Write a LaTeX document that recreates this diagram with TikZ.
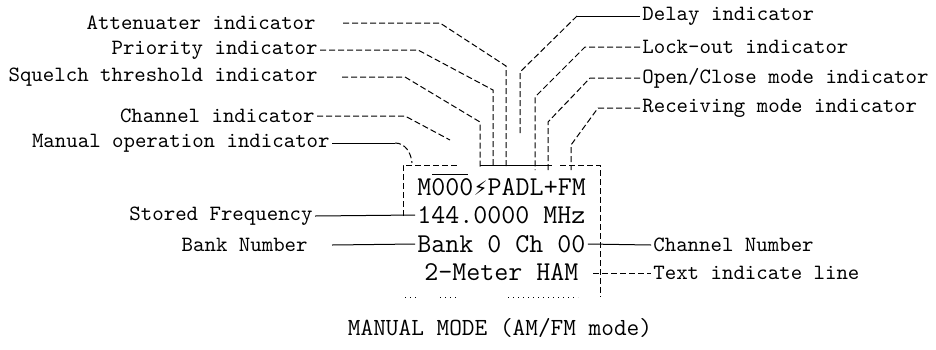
\documentclass[tikz,border=0pt]{standalone}
\usepackage{fontspec}
\newfontfamily\symfont{DejaVu Sans}

\begin{document}
\begin{tikzpicture}[
  x=0.5pt, y=-0.5pt,
  lbl/.style={font=\ttfamily\fontsize{10.9}{13}\selectfont, inner sep=1pt},
  lcd/.style={font=\ttfamily\fontsize{13.6}{16}\selectfont, inner sep=1pt, anchor=west},
  ttl/.style={font=\ttfamily\fontsize{12.3}{15}\selectfont, inner sep=1pt},
  lead/.style={line width=0.5pt, dash pattern=on 3pt off 1.5pt},
  wire/.style={line width=0.5pt},
]
  \useasboundingbox (0,0) rectangle (936,349);

  % labels on the left
  \foreach \name/\x/\y/\txt in {att/318/23/Attenuater indicator, pri/320/50/Priority indicator,
      sql/320/77/Squelch threshold indicator, chi/317/116/Channel indicator,
      man/332/143/Manual operation indicator, stf/315/216/Stored Frequency, bnk/310/245/Bank Number}
    \node[lbl, anchor=east] (\name) at (\x,\y) {\txt};

  % labels on the right
  \foreach \name/\x/\y/\txt in {dly/640/16/Delay indicator, lck/640/47/Lock-out indicator,
      opn/640/78/{Open/Close mode indicator}, rcv/640/108/Receiving mode indicator,
      chn/651/245/Channel Number, txt/651/273/Text indicate line}
    \node[lbl, anchor=west] (\name) at (\x,\y) {\txt};

  % display lines
  \node[lcd] (r1) at (415,187) {M000\makebox[0.525em]{\symfont\fontsize{10}{10}\selectfont ⚡}PADL+FM};
  \node[lcd] (r2) at (415,215) {144.0000 MHz};
  \node[lcd] (r3) at (415,244) {Bank 0 Ch 00};
  \node[lcd] (r4) at (422,272) {2-Meter HAM};
  \node[ttl] (ttl) at (500,328) {MANUAL MODE (AM/FM mode)};

  % left fan into the indicator bar
  \foreach \from/\gap/\ax/\ay/\bx/\by/\ey in {att/25/440/23/506/66/168, pri/0/418/50/493/90/168,
      sql/22/405/77/480/122/168}
    \draw[lead] (\from.east) ++(\gap,0) -- (\ax,\ay) -- (\bx,\by) -- (\bx,\ey);
  \draw[lead] (chi.east) -- (405,116) -- (450,140);
  \draw[wire] (man.east) -- (395,143);
  \draw[lead] (395,143) to[out=0, in=95] (412,163);

  % right fan
  \draw[wire] (dly.west) -- (577,16);
  \draw[lead] (577,16) -- (520,72) -- (520,135);
  \foreach \from/\ax/\ay/\bx/\by/\ey in {lck/585/47/535/97/170,
      opn/590/78/548/122/172, rcv/598/108/571/145/170}
    \draw[lead] (\from.west) -- (\ax,\ay) -- (\bx,\by) -- (\bx,\ey);

  % frame round the display
  \draw[lead] (403,216) |- (458,165);
  \draw[wire] (480,165) -- (552,165);
  \draw[lead] (560,165) -- (600,165) -- (600,297);
  \draw[wire] (432,174) -- (468,174);
  \foreach \a/\b in {405/418, 440/458, 508/578}
    \draw[line width=0.5pt, dotted] (\a,297) -- (\b,297);

  \draw[wire] (stf.east) -- (r2.west);
  \draw[wire] (bnk.east) ++(22,0) -- (r3.west);
  \draw[wire] (r3.east) -- (chn.west);
  \coordinate (tl) at (593,273);
  \draw[lead] (tl) -- (txt.west);
\end{tikzpicture}
\end{document}
